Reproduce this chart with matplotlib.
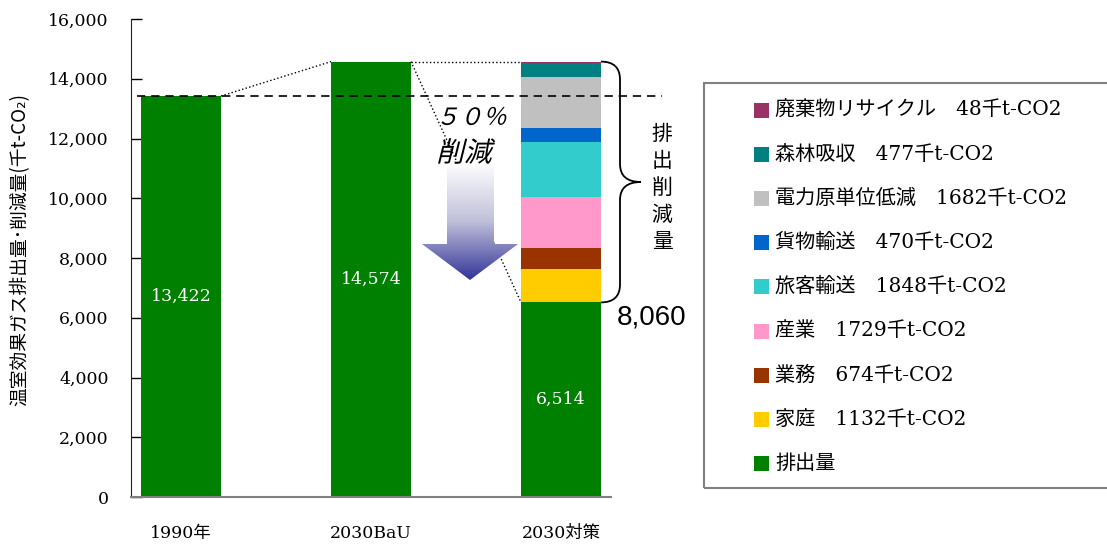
import numpy as np
import matplotlib
matplotlib.use("Agg")
import matplotlib.pyplot as plt
from matplotlib.patches import Rectangle, Polygon, PathPatch
from matplotlib.path import Path
from matplotlib.textpath import TextPath
from matplotlib.font_manager import FontProperties
from matplotlib.transforms import Affine2D
from matplotlib.colors import LinearSegmentedColormap
import matplotlib.ticker as mticker

# ================== data ==================
categories = ["1990年", "2030BaU", "2030対策"]
emissions = [13422, 14574, 6514]

# reduction pieces stacked on 2030対策 (bottom -> top)
cut_names = ["家庭", "業務", "産業", "旅客輸送", "貨物輸送", "電力原単位低減", "森林吸収", "廃棄物リサイクル"]
cut_values = [1132, 674, 1729, 1848, 470, 1682, 477, 48]
cut_colors = ["#FFCC00", "#993300", "#FF99CC", "#33CCCC", "#0066CC", "#C0C0C0", "#008080", "#993366"]
green = "#008000"

total_cut_label = "8,060"
cut_text = "排出削減量"
arrow_text = ["５０％", "削減"]
ylabel = "温室効果ガス排出量･削減量(千t-CO₂)"

SERIF = ["DejaVu Serif", "Noto Sans CJK JP"]
JP = ["Noto Sans CJK JP", "DejaVu Sans"]

W, H = 1107, 553
fig = plt.figure(figsize=(W / 100, H / 100), dpi=100)

# axes placed in pixels: x-axis left 131, y 0 at 497, 16000 at 19
bar_w = 80 / 190
x0_px, step_px = 181, 190
ax_l, ax_r = 131, 668
ax = fig.add_axes([ax_l / W, (H - 497) / H, (ax_r - ax_l) / W, (497 - 19) / H])
xmin = (ax_l - x0_px) / step_px
xmax = (ax_r - x0_px) / step_px

x = np.arange(len(categories))

# ===== bars =====
ax.bar(x, emissions, width=bar_w, color=green, zorder=2)
bottom = emissions[2]
for v, c in zip(cut_values, cut_colors):
    ax.bar(x[2], v, width=bar_w, bottom=bottom, color=c, zorder=2)
    bottom += v

for xi, v in zip(x, emissions):
    ax.text(xi, v / 2, f"{v:,}", ha="center", va="center", color="white",
            fontsize=12.5, family=SERIF, zorder=5)

# ===== reference lines =====
hb = bar_w / 2
ax.plot([x[0] - hb - 0.02, (662 - x0_px) / step_px], [emissions[0]] * 2,
        color="black", ls=(0, (5, 3.5)), lw=1.2, zorder=4)
ax.plot([x[0] + hb, x[1] - hb], [emissions[0], emissions[1]], color="black", ls=":", lw=1, zorder=3)
ax.plot([x[1] + hb, x[2] - hb], [emissions[1], emissions[1]], color="black", ls=":", lw=1, zorder=3)
ax.plot([x[1] + hb, x[2] - hb], [emissions[1], emissions[2]], color="black", ls=":", lw=1, zorder=3)

# ===== gradient arrow =====
def px2x(px):
    return (px - x0_px) / step_px


def py2y(py):
    return (497 - py) * 16000 / 478


arrow_pts = [(px2x(447), py2y(163)), (px2x(494), py2y(163)), (px2x(494), py2y(244)),
             (px2x(518), py2y(244)), (px2x(470), py2y(280)), (px2x(422), py2y(244)),
             (px2x(447), py2y(244))]
arrow_poly = Polygon(arrow_pts, closed=True, facecolor="none", edgecolor="none",
                     transform=ax.transData)
ax.add_patch(arrow_poly)
cmap = LinearSegmentedColormap.from_list("arr", ["#ffffff", "#c0c0da", "#333399"])
grad = np.linspace(0, 1, 256).reshape(-1, 1)
im = ax.imshow(grad, cmap=cmap, aspect="auto", origin="upper",
               extent=[px2x(422), px2x(518), py2y(280), py2y(163)], zorder=3)
im.set_clip_path(arrow_poly)


def skew_text(s, px, py, size):
    # italic look for CJK text (font has no italic face)
    tp = TextPath((0, 0), s, prop=FontProperties(family="Noto Sans CJK JP", size=size))
    bb = tp.get_extents()
    tr = (Affine2D().translate(-(bb.x0 + bb.x1) / 2, -(bb.y0 + bb.y1) / 2)
          .skew_deg(14, 0).scale(1 / 72)
          .translate(px / 100, (H - py) / 100) + fig.dpi_scale_trans)
    fig.patches.append(PathPatch(tp, transform=tr, facecolor="black", edgecolor="none"))


skew_text(arrow_text[0], 475, 116, 17)
skew_text(arrow_text[1], 467, 151, 20)

# ===== brace =====
ytop = emissions[1]
ybot = emissions[2]
ymid = (ytop + ybot) / 2
bx0, bxv, bxt = px2x(601), px2x(620), px2x(641)
r = 600
verts = [(bx0, ytop), (bxv, ytop), (bxv, ytop - r),
         (bxv, ymid + r),
         (bxv, ymid), (bxt, ymid),
         (bxv, ymid), (bxv, ymid - r),
         (bxv, ybot + r),
         (bxv, ybot), (bx0, ybot)]
codes = [Path.MOVETO, Path.CURVE3, Path.CURVE3, Path.LINETO, Path.CURVE3, Path.CURVE3,
         Path.CURVE3, Path.CURVE3, Path.LINETO, Path.CURVE3, Path.CURVE3]
ax.add_patch(PathPatch(Path(verts, codes), facecolor="none", edgecolor="black", lw=1.3,
                       clip_on=False, zorder=4))
ax.text(px2x(662), py2y(188), "\n".join(cut_text), ha="center", va="center",
        fontsize=15, family=JP, linespacing=1.28)
ax.text(px2x(652), py2y(318), total_cut_label, ha="center", va="center",
        fontsize=20, family=["Liberation Sans", "DejaVu Sans"])

# ===== axes styling =====
ax.set_xlim(xmin, xmax)
ax.set_ylim(0, 16000)
ax.yaxis.set_major_locator(mticker.MultipleLocator(2000))
ax.yaxis.set_major_formatter(mticker.FuncFormatter(lambda v, p: f"{int(v):,}"))
ax.set_xticks(x)
ax.set_xticklabels(categories)
for lab in ax.get_xticklabels() + ax.get_yticklabels():
    lab.set_family(SERIF)
    lab.set_fontsize(12.5)
ax.tick_params(axis="y", direction="in", length=8, width=1, pad=16)
ax.tick_params(axis="x", length=0, pad=20)
ax.spines["top"].set_visible(False)
ax.spines["right"].set_visible(False)
ax.spines["left"].set_color("#222222")
ax.spines["bottom"].set_color("#808080")
ax.spines["bottom"].set_linewidth(1.5)
ax.spines["bottom"].set_bounds(xmin, px2x(611))

fig.text(20 / W, 1 - 250 / H, ylabel, rotation=90, ha="center", va="center",
         fontsize=13.5, family=JP)

# ===== legend (manual, top -> bottom) =====
leg_labels = [f"{n}　{v}千t-CO2" for n, v in zip(cut_names[::-1], cut_values[::-1])] + ["排出量"]
leg_colors = cut_colors[::-1] + [green]
fig.patches.append(Rectangle((704 / W, 1 - 488 / H), (1130 - 704) / W, (488 - 83) / H,
                             transform=fig.transFigure, facecolor="none",
                             edgecolor="#808080", lw=1.5))
for i, (lab, col) in enumerate(zip(leg_labels, leg_colors)):
    yc = 110 + 44.2 * i
    fig.patches.append(Rectangle((754 / W, 1 - (yc + 7.5) / H), 15 / W, 15 / H,
                                 transform=fig.transFigure, facecolor=col, edgecolor="none"))
    fig.text(775 / W, 1 - yc / H, lab, ha="left", va="center", fontsize=14.5, family=SERIF)

fig.savefig("out.png", dpi=100)
